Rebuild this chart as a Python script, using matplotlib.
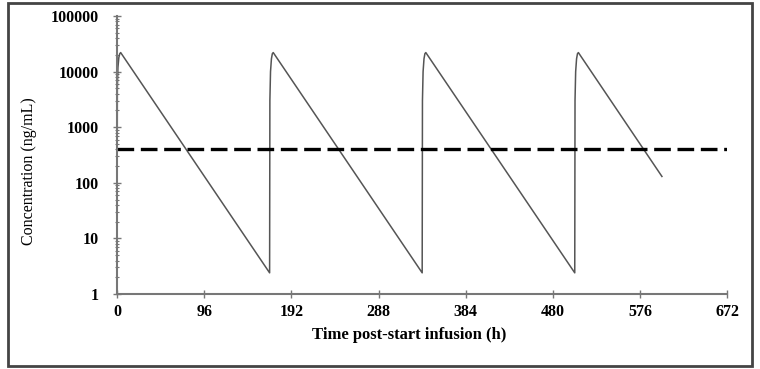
import matplotlib
matplotlib.use("Agg")
import matplotlib.pyplot as plt
from matplotlib.patches import Rectangle
from matplotlib.ticker import LogLocator, NullFormatter

# Data
time_h = [0, 0.3, 1, 2, 3, 4,
          168, 168.3, 169, 170, 171, 172,
          336, 336.3, 337, 338, 339, 340,
          504, 504.3, 505, 506, 507, 508,
          600]
conc = [1.0, 5000, 12000, 18000, 21000, 22000,
        2.4, 3000, 10000, 17000, 21000, 22000,
        2.4, 3000, 10000, 17000, 21000, 22000,
        2.4, 3000, 10000, 17000, 21000, 22000,
        130]
threshold_x = [0, 672]
threshold_y = [400, 400]
x_ticks = [0, 96, 192, 288, 384, 480, 576, 672]
y_ticks = [1, 10, 100, 1000, 10000, 100000]
y_tick_labels = ["1", "10", "100", "1000", "10000", "100000"]

plt.rcParams['font.family'] = ['Liberation Serif', 'DejaVu Serif']

fig = plt.figure(figsize=(7.6, 3.69), dpi=100)
ax = fig.add_axes([0.154, 0.2033, 0.803, 0.7533])

ax.plot(time_h, conc, color='#555555', lw=1.1, clip_on=True)
ax.plot(threshold_x, threshold_y, color='black', lw=2.4, dashes=(5, 2))

ax.set_yscale('log')
ax.set_xlim(0, 672)
ax.set_ylim(1, 100000)
ax.set_xticks(x_ticks)
ax.set_xticklabels([str(v) for v in x_ticks])
ax.set_yticks(y_ticks)
ax.set_yticklabels(y_tick_labels)
ax.yaxis.set_minor_locator(LogLocator(base=10, subs=range(2, 10)))
ax.yaxis.set_minor_formatter(NullFormatter())

for s in ['top', 'right']:
    ax.spines[s].set_visible(False)
for s in ['left', 'bottom']:
    ax.spines[s].set_color('#777777')
    ax.spines[s].set_linewidth(1.5)

ax.tick_params(axis='both', which='major', direction='inout', length=6,
               width=1, color='#777777', labelsize=11.5)
ax.tick_params(axis='y', which='major', pad=10)
ax.tick_params(axis='x', which='major', pad=4)
ax.tick_params(axis='y', which='minor', direction='inout', length=3,
               width=0.8, color='#777777')
for lab in ax.get_xticklabels() + ax.get_yticklabels():
    lab.set_fontweight('bold')

ax.set_xlabel('Time post-start infusion (h)', fontsize=12, fontweight='bold')
ax.xaxis.set_label_coords(0.479, -0.12)
fig.text(0.038, 0.535, 'Concentration (ng/mL)', rotation=90, fontsize=11.5,
         ha='center', va='center', fontstretch='condensed')

fig.patches.append(Rectangle((8 / 760, 3 / 369), 744 / 760, 363 / 369,
                             transform=fig.transFigure, fill=False,
                             edgecolor='#444444', lw=2))

fig.savefig('out.png', dpi=100)
